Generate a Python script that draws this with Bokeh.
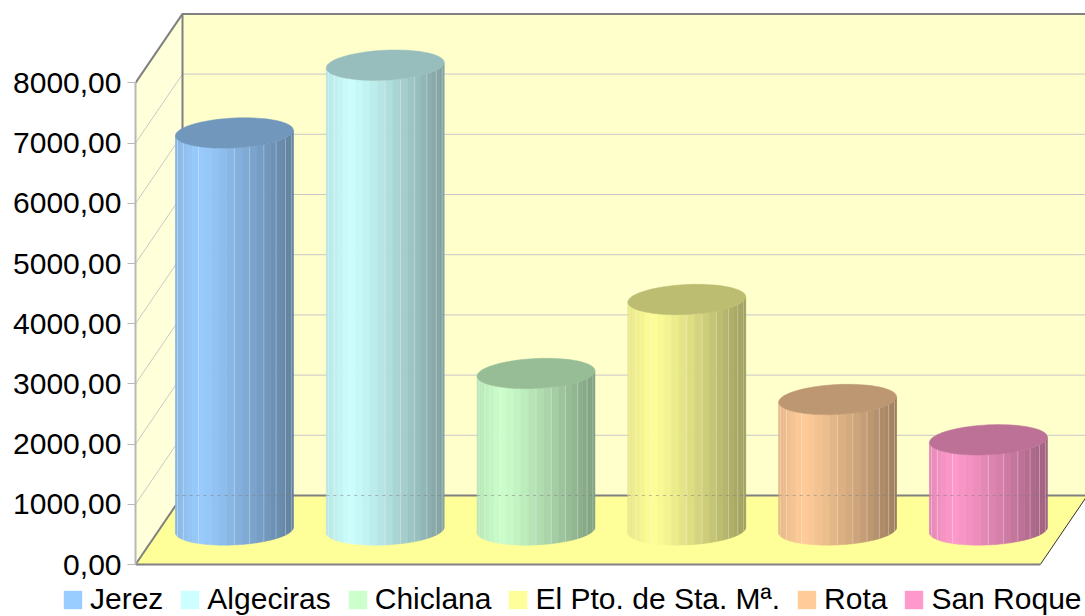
import numpy as np
from bokeh.plotting import figure
from bokeh.layouts import column
from bokeh.models import Range1d, FixedTicker, Legend, LegendItem
from bokeh.embed import file_html
from bokeh.resources import INLINE

categories = ["Jerez", "Algeciras", "Chiclana", "El Pto. de Sta. Mª.", "Rota", "San Roque"]
values = [6595, 7721, 2600, 3829, 2168, 1498]
base_colors = ["#99CCFF", "#CCFFFF", "#CCFFCC", "#FFFF99", "#FFCC99", "#FF99CC"]
tick_values = [0, 1000, 2000, 3000, 4000, 5000, 6000, 7000, 8000]
tick_labels = ["0,00", "1000,00", "2000,00", "3000,00", "4000,00", "5000,00", "6000,00", "7000,00", "8000,00"]

# projection constants
PX_X = 150.8
PX_Y = 0.0602
DX = 47 / PX_X       # depth shift in category units
DY = 69 / PX_Y       # depth shift in value units
N_CAT = 6
YMAX = 8000
R_X = 58 / PX_X      # cylinder half width
R_S = 10.5 / PX_X    # shear of the ellipse
R_Y = 15.2 / PX_Y    # ellipse half height

p = figure(width=1085, height=582, output_backend="svg", toolbar_location=None,
           x_range=Range1d(-0.5, -0.5 + 950 / PX_X),
           y_range=Range1d(-18 / PX_Y, 564 / PX_Y),
           min_border_left=135, min_border_right=0, min_border_top=0, min_border_bottom=0,
           background_fill_color="white", border_fill_color="white", outline_line_color=None,
           frame_align=False)
p.xaxis.visible = False
p.xgrid.visible = False
p.ygrid.visible = False

ax = p.yaxis[0]
ax.ticker = FixedTicker(ticks=tick_values)
ax.major_label_overrides = {v: s for v, s in zip(tick_values, tick_labels)}
ax.major_label_text_font = "Liberation Sans"
ax.major_label_text_font_size = "30px"
ax.major_label_text_color = "black"
ax.major_label_standoff = 6
ax.bounds = (0, YMAX)
ax.axis_line_color = "#b8b8b8"
ax.axis_line_width = 2
ax.major_tick_line_color = "#b8b8b8"
ax.major_tick_line_width = 1
ax.major_tick_in = 0
ax.major_tick_out = 8
ax.minor_tick_line_color = None

L, Rt = -0.5, N_CAT - 0.5

# walls and floor
p.patch([L + DX, Rt + DX + 1, Rt + DX + 1, L + DX], [DY, DY, YMAX + DY, YMAX + DY],
        fill_color="#FFFFCC", line_color=None)
p.patch([L, L + DX, L + DX, L], [0, DY, YMAX + DY, YMAX],
        fill_color="#FFFFD9", line_color=None)
p.patch([L, L + DX, Rt + DX, Rt], [0, DY, DY, 0],
        fill_color="#FFFF99", line_color=None)

# grid
for v in tick_values[1:-1]:
    p.line([L, L + DX, Rt + DX + 1], [v, v + DY, v + DY], line_color="#c8c8c8", line_width=1)

# frame edges
p.line([L, L + DX, Rt + DX + 1], [YMAX, YMAX + DY, YMAX + DY], line_color="#808080", line_width=2)
p.line([L + DX, L + DX], [DY, YMAX + DY], line_color="#808080", line_width=2)
p.line([L + DX, Rt + DX + 1], [DY, DY], line_color="#808080", line_width=2)
p.line([L, L + DX], [0, DY], line_color="#808080", line_width=2)
p.line([L, Rt], [0, 0], line_color="#808080", line_width=2)
p.line([Rt, Rt + DX], [0, DY], line_color="#303030", line_width=1)


def shade(hex_color, f):
    r, g, b = (int(hex_color[i:i + 2], 16) for i in (1, 3, 5))
    return "#%02x%02x%02x" % (int(r * f), int(g * f), int(b * f))


def factor(u):
    if u < 0.2:
        return 0.9 + 0.1 * u / 0.2
    return 1 - 0.38 * ((u - 0.2) / 0.8) ** 1.2


N_STRIP = 24
seams = [2, 4, 7, 12, 14, 16, 18, 20, 22]
t0 = np.arctan2(R_S, R_X)
half = np.hypot(R_X, R_S)

for i, (val, col) in enumerate(zip(values, base_colors)):
    cx = i + DX / 2
    cy = DY / 2
    ts = np.linspace(t0 + np.pi, t0 + 2 * np.pi, N_STRIP + 1)
    xb = cx + R_X * np.cos(ts) + R_S * np.sin(ts)
    yb = cy + R_Y * np.sin(ts)
    xs, ys, cs = [], [], []
    for k in range(N_STRIP):
        xs.append([xb[k], xb[k + 1], xb[k + 1], xb[k]])
        ys.append([yb[k], yb[k + 1], yb[k + 1] + val, yb[k] + val])
        u = ((xb[k] + xb[k + 1]) / 2 - (cx - half)) / (2 * half)
        cs.append(shade(col, factor(u)))
    p.patches(xs, ys, fill_color=cs, line_color=cs, line_width=0.5)
    for k in seams:
        p.line([xb[k], xb[k]], [yb[k], yb[k] + val], line_color="white", line_alpha=0.3, line_width=1)
    p.line([xb[0], xb[-1]], [DY, DY], line_color="#808080", line_alpha=0.5, line_width=1, line_dash="3 4")
    tt = np.linspace(0, 2 * np.pi, 80)
    p.patch(cx + R_X * np.cos(tt) + R_S * np.sin(tt), cy + val + R_Y * np.sin(tt),
            fill_color=shade(col, 0.745), line_color=shade(col, 0.745), line_width=0.5)

# legend in a strip below the plot
lf = figure(width=1085, height=34, output_backend="svg", toolbar_location=None,
            x_range=Range1d(0, 1), y_range=Range1d(0, 1),
            x_axis_location=None, y_axis_location=None,
            min_border_left=0, min_border_right=0, min_border_top=0, min_border_bottom=0,
            background_fill_color="white", border_fill_color="white",
            outline_line_color=None, frame_align=False)
lf.grid.visible = False
items = []
for name, col in zip(categories, base_colors):
    r = lf.quad(left=[5], right=[6], bottom=[5], top=[6], fill_color=col, line_color=None)
    items.append(LegendItem(label=name, renderers=[r]))
leg = Legend(items=items, orientation="horizontal", location=(61, 0),
             background_fill_alpha=0, border_line_color=None, margin=0, padding=0,
             spacing=15, label_standoff=6, glyph_width=23, glyph_height=23,
             label_text_font="Liberation Sans", label_text_font_size="30px",
             label_text_color="black", label_height=20)
lf.add_layout(leg)

open("out.html", "w").write(file_html(column(p, lf, spacing=0), INLINE))
